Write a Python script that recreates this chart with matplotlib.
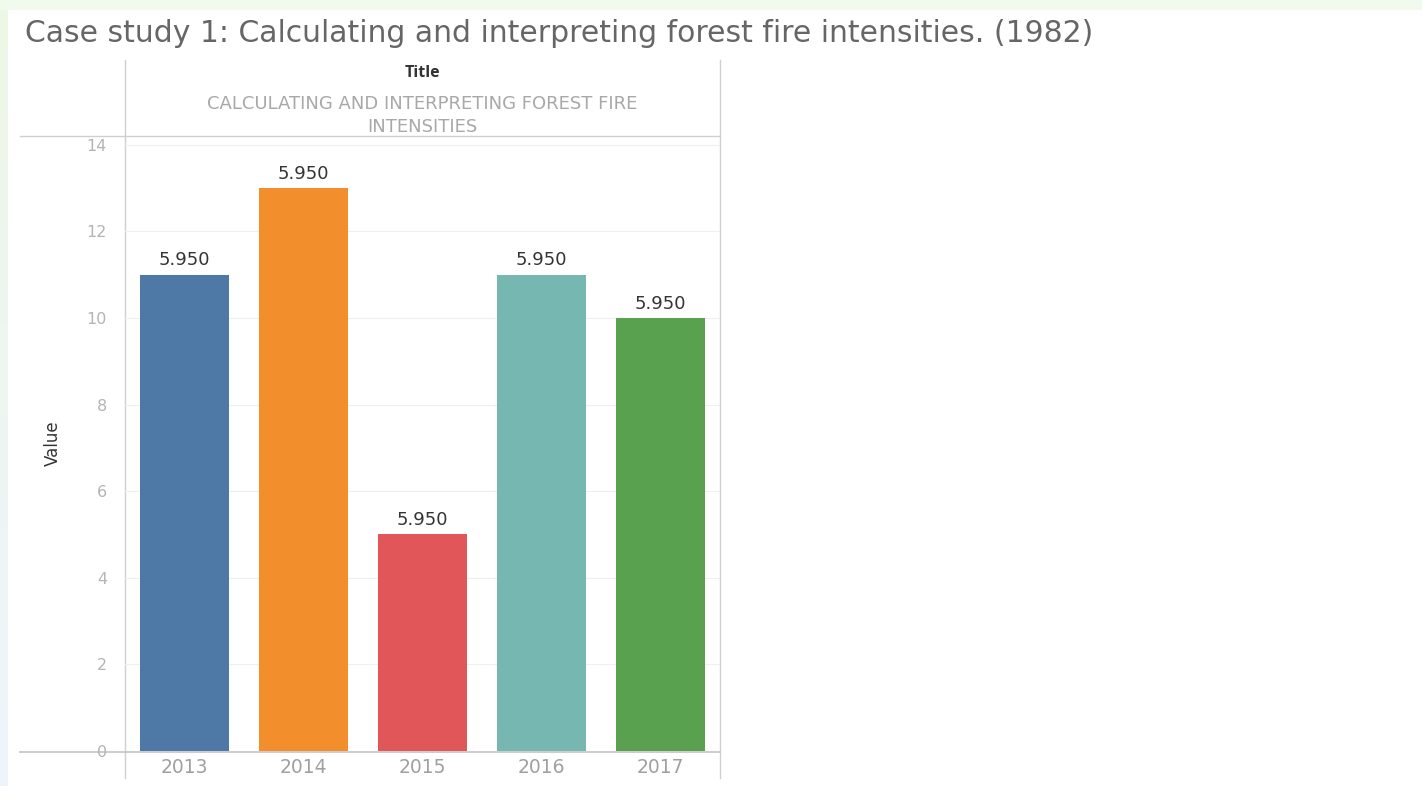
import numpy as np
import matplotlib
matplotlib.use("Agg")
from matplotlib import pyplot as plt
from matplotlib.lines import Line2D

# chart data
years = ["2013", "2014", "2015", "2016", "2017"]
values = [11, 13, 5, 11, 10]
labels = ["5.950", "5.950", "5.950", "5.950", "5.950"]
colors = ["#4e79a7", "#f28e2b", "#e15759", "#76b7b2", "#59a14f"]
yticks = [0, 2, 4, 6, 8, 10, 12, 14]

W, H = 1422, 786
fig = plt.figure(figsize=(W / 100, H / 100), dpi=100)
fig.patch.set_facecolor("white")

# light green/blue border strips like the slide background
bg = fig.add_axes([0, 0, 1, 1])
bg.set_xlim(0, W)
bg.set_ylim(H, 0)
bg.axis("off")
grad = np.linspace(0, 1, 100)[:, None]
strip = np.zeros((100, 1, 3))
top_c = np.array([0.93, 0.97, 0.90])
bot_c = np.array([0.93, 0.96, 0.99])
strip[:, 0, :] = top_c * (1 - grad) + bot_c * grad
bg.imshow(strip, extent=[0, 8, H, 0], aspect="auto")
bg.fill_between([0, W], 0, 10, color=(0.95, 0.98, 0.93), lw=0)

# title
fig.text(25 / W, 1 - 34 / H, "Case study 1: Calculating and interpreting forest fire intensities. (1982)",
         fontsize=21.5, color="#666666", family="DejaVu Sans",
         va="center", ha="left")

# header panel lines
line_c = "#cfcfcf"
for x in (125, 720):
    bg.add_line(Line2D([x, x], [60, 778], color=line_c, lw=1))
bg.add_line(Line2D([20, 720], [136, 136], color=line_c, lw=1))
bg.add_line(Line2D([20, 720], [751.5, 751.5], color="#c4c4c4", lw=1.2))

bg.text(422, 73, "Title", fontsize=11.5, color="#333333", family="Open Sans",
        fontweight="bold", ha="center", va="center")
bg.text(422, 104, "CALCULATING AND INTERPRETING FOREST FIRE", fontsize=13,
        color="#a8a8a8", family="DejaVu Sans", ha="center", va="center")
bg.text(422, 127, "INTENSITIES", fontsize=13, color="#a8a8a8", family="DejaVu Sans",
        ha="center", va="center")

# main axes
ax = fig.add_axes([125 / W, 1 - 751 / H, 595 / W, (751 - 136) / H])
ax.set_facecolor("none")
x = np.arange(len(years))
ax.bar(x, values, width=0.75, color=colors, zorder=3)
for xi, v, lab in zip(x, values, labels):
    ax.text(xi, v + 0.12, lab, ha="center", va="bottom", fontsize=13,
            color="#333333", family="DejaVu Sans")

ax.set_xlim(-0.5, 4.5)
ax.set_ylim(0, 14.2)
ax.set_yticks(yticks)
ax.set_yticklabels([str(t) for t in yticks], fontsize=11.5, color="#b4b4b4",
                   family="DejaVu Sans")
ax.set_xticks(x)
ax.set_xticklabels(years, fontsize=13.5, color="#a0a0a0", family="DejaVu Sans")
ax.tick_params(axis="both", length=0)
ax.tick_params(axis="y", pad=13)
ax.tick_params(axis="x", pad=5)
ax.grid(axis="y", color="#efefef", lw=0.8, zorder=0)
for s in ax.spines.values():
    s.set_visible(False)
ax.set_ylabel("Value", fontsize=12, color="#333333", family="Liberation Sans Narrow", labelpad=18)

fig.savefig("out.png", dpi=100)
